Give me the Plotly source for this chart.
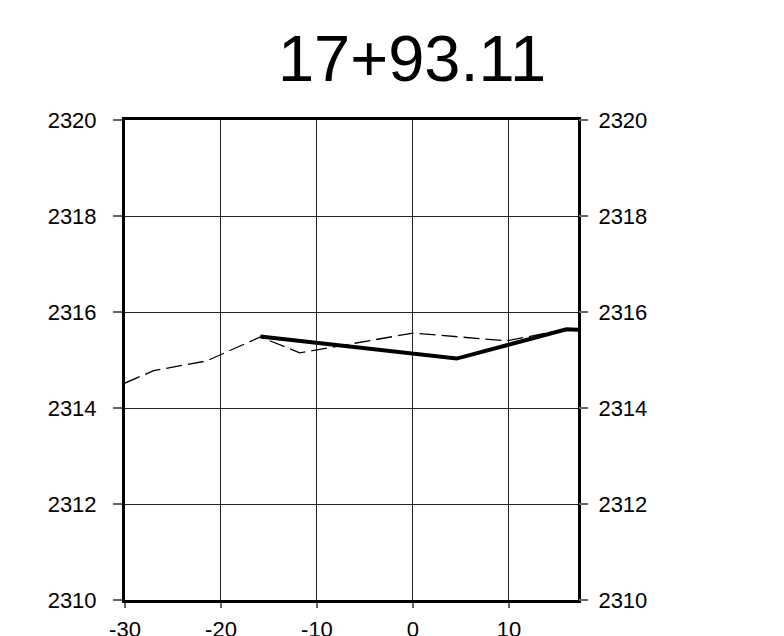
import plotly.graph_objects as go

title_text = "17+93.11"
existing_x = [-30, -27, -21.5, -15.9, -11.8, 0, 9.8, 16.0, 17.4]
existing_y = [2314.52, 2314.78, 2314.98, 2315.48, 2315.15, 2315.56, 2315.40, 2315.64, 2315.63]
proposed_x = [-15.9, 4.55, 16.0, 17.4]
proposed_y = [2315.49, 2315.03, 2315.64, 2315.63]
x_ticks = [-30, -20, -10, 0, 10]
y_ticks = [2310, 2312, 2314, 2316, 2318, 2320]
x_range = [-30, 17.2]
y_range = [2310, 2320]

font_family = "Arial, Liberation Sans, sans-serif"

fig = go.Figure()
fig.add_trace(go.Scatter(x=existing_x, y=existing_y, mode="lines",
                         line=dict(color="black", width=1.3, dash="16px,6px"),
                         showlegend=False, hoverinfo="skip"))
fig.add_trace(go.Scatter(x=proposed_x, y=proposed_y, mode="lines",
                         line=dict(color="black", width=4),
                         showlegend=False, hoverinfo="skip"))
# invisible trace to activate right axis
fig.add_trace(go.Scatter(x=[x_range[0]], y=[y_range[0]], yaxis="y2", mode="markers",
                         marker=dict(opacity=0), showlegend=False, hoverinfo="skip"))

axis_font = dict(family=font_family, size=22, color="black")

fig.update_layout(
    width=784, height=636,
    margin=dict(l=117, r=214, t=112, b=44, autoexpand=False),
    paper_bgcolor="white", plot_bgcolor="white",
    title=dict(text=title_text, x=404/784, xanchor="center", xref="container",
               y=1 - 50/636, yanchor="middle", yref="container",
               font=dict(family=font_family, size=65, color="black")),
    xaxis=dict(range=x_range, tickvals=x_ticks, ticktext=[str(v) for v in x_ticks],
               showgrid=True, gridcolor="#222", gridwidth=1.3, automargin=False,
               showline=True, linecolor="black", linewidth=3, mirror=True,
               ticks="outside", ticklen=5, tickcolor="#666", tickwidth=1.5,
               tickfont=axis_font, ticklabelstandoff=3, zeroline=False),
    yaxis=dict(range=y_range, tickvals=y_ticks, ticktext=[str(v) for v in y_ticks],
               showgrid=True, gridcolor="#222", gridwidth=1.3, automargin=False,
               showline=True, linecolor="black", linewidth=3, mirror=True,
               ticks="outside", ticklen=9, tickcolor="#666", tickwidth=1.5,
               tickfont=axis_font, ticklabelstandoff=12, zeroline=False),
    yaxis2=dict(range=y_range, tickvals=y_ticks, ticktext=[str(v) for v in y_ticks],
                overlaying="y", side="right", showgrid=False, showline=False,
                automargin=False,
                ticks="outside", ticklen=9, tickcolor="#666", tickwidth=1.5,
                tickfont=axis_font, ticklabelstandoff=6, zeroline=False),
)

fig.write_html("out.html")
